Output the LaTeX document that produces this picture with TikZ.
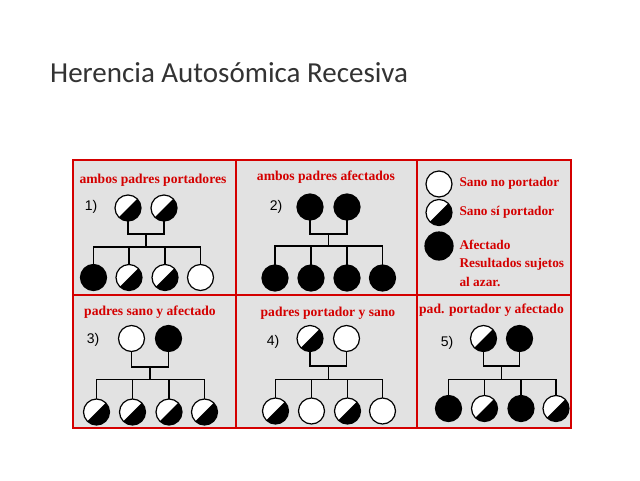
\documentclass[tikz,border=0pt]{standalone}
\usepackage{fontspec}
\setmainfont{Liberation Serif}
\newfontfamily\titlefont{Carlito}
\newfontfamily\numfont{Liberation Sans}
\definecolor{panelred}{RGB}{212,0,0}
\definecolor{panelbg}{RGB}{226,226,226}
\begin{document}
\begin{tikzpicture}[x=1pt,y=1pt,
  person/.style={circle,draw=black,line width=1.2pt,minimum size=26pt,inner sep=0pt},
  healthy/.style={person,fill=white},
  affected/.style={person,fill=black},
  carrier/.style={person,fill=white,path picture={\fill[black] (path picture bounding box.south west) -- (path picture bounding box.north east) -- (path picture bounding box.south east) -- cycle;}},
  link/.style={draw=black,line width=1.1pt,line cap=rect},
  lab/.style={text=panelred,font=\bfseries\fontsize{13.6}{15}\selectfont},
  leg/.style={text=panelred,font=\bfseries\fontsize{13.3}{15}\selectfont,anchor=west},
  num/.style={font=\numfont\fontsize{14}{15}\selectfont},
  frame/.style={draw=panelred,line width=1.8pt}]
\useasboundingbox (0,0) rectangle (640,-480);
\fill[white] (0,0) rectangle (640,-480);
% title
\node[font=\titlefont\fontsize{29}{34}\selectfont,text=black!80,anchor=base west,inner sep=0pt] (title) at (50,-82) {Herencia Autosómica Recesiva};
% panels
\fill[panelbg] (73,-160) rectangle (571,-428);
\draw[frame] (73,-160) rectangle (571,-428);
\draw[frame] (236,-160) -- (236,-428);
\draw[frame] (417,-160) -- (417,-428);
\draw[frame] (73,-295) -- (571,-295);
% labels
\node[lab] (l1) at (153,-180) {ambos padres portadores};
\node[lab] (l2) at (326,-177.5) {ambos padres afectados};
\node[lab] (l3) at (150,-312.5) {padres sano y afectado};
\node[lab] (l4) at (328,-313.5) {padres portador y sano};
\node[lab] (l5) at (491.5,-310.5) {pad. portador y afectado};
% numbers
\node[num] (n1) at (91,-207) {1)};
\node[num] (n2) at (276,-207) {2)};
\node[num] (n3) at (93,-340) {3)};
\node[num] (n4) at (273,-342) {4)};
\node[num] (n5) at (447,-343) {5)};
% legend
\node[healthy] (g1) at (439,-184) {};
\node[carrier] (g2) at (439,-212.5) {};
\node[affected,minimum size=28pt] (g3) at (439,-246) {};
\node[leg] (t1) at (456,-183.5) {Sano no portador};
\node[leg] (t2) at (456,-212) {Sano sí portador};
\node[leg] (t3) at (456,-245) {Afectado};
\node[leg,align=left,font=\bfseries\fontsize{13.3}{18.5}\selectfont] (t4) at (456,-272.5) {Resultados sujetos\\al azar.};
% ---------- family 1
\node[carrier] (a1) at (128,-208) {};
\node[carrier] (b1) at (164,-208) {};
\node[affected] (a1c1) at (93.5,-277.5) {};
\node[carrier] (a1c2) at (129,-277.5) {};
\node[carrier] (a1c3) at (165,-277.5) {};
\node[healthy] (a1c4) at (200.5,-277.5) {};
\coordinate (m1) at (146,-234);
\coordinate (s1) at (146,-247);
% ---------- family 2
\node[affected] (a2) at (310,-207) {};
\node[affected] (b2) at (347,-207) {};
\node[affected] (a2c1) at (275,-278) {};
\node[affected] (a2c2) at (311,-278) {};
\node[affected] (a2c3) at (347,-278) {};
\node[affected] (a2c4) at (382.5,-278) {};
\coordinate (m2) at (328.5,-234);
\coordinate (s2) at (328.5,-246);
% ---------- family 3
\node[healthy] (a3) at (131.5,-338.5) {};
\node[affected] (b3) at (168.5,-338.5) {};
\node[carrier] (a3c1) at (96.5,-412) {};
\node[carrier] (a3c2) at (132.5,-412) {};
\node[carrier] (a3c3) at (169,-412) {};
\node[carrier] (a3c4) at (204.5,-412) {};
\coordinate (m3) at (150,-367);
\coordinate (s3) at (150,-379.5);
% ---------- family 4
\node[carrier] (a4) at (310,-338.5) {};
\node[healthy] (b4) at (346.5,-338.5) {};
\node[carrier] (a4c1) at (275.5,-411) {};
\node[healthy] (a4c2) at (311.5,-411) {};
\node[carrier] (a4c3) at (347.5,-411) {};
\node[healthy] (a4c4) at (382.5,-411) {};
\coordinate (m4) at (328.5,-366);
\coordinate (s4) at (328.5,-379.5);
% ---------- family 5
\node[carrier] (a5) at (483.5,-338.5) {};
\node[affected] (b5) at (519.5,-338.5) {};
\node[affected] (a5c1) at (448.5,-408.5) {};
\node[carrier] (a5c2) at (484.5,-408.5) {};
\node[affected] (a5c3) at (521,-408.5) {};
\node[carrier] (a5c4) at (556,-408.5) {};
\coordinate (m5) at (501.5,-366);
\coordinate (s5) at (501.5,-379.5);
% connectors
\foreach \i in {1,...,5}{
  \draw[link] (a\i.south) |- (m\i) -| (b\i.south);
  \draw[link] (m\i) -- (s\i);
  \draw[link] (a\i c1.north) |- (s\i) -| (a\i c4.north);
  \draw[link] (a\i c2.north) -- (a\i c2.north |- s\i);
  \draw[link] (a\i c3.north) -- (a\i c3.north |- s\i);
}
\end{tikzpicture}
\end{document}
